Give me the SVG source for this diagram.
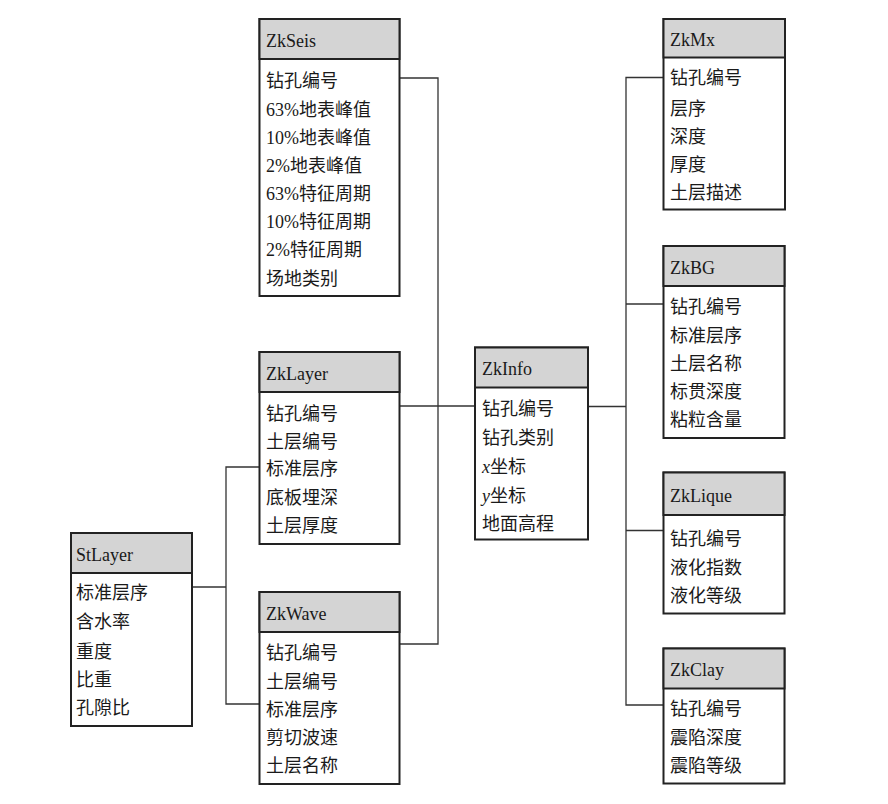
<svg xmlns="http://www.w3.org/2000/svg" width="888" height="804" viewBox="0 0 888 804">
<style>
.box{fill:#ffffff;stroke:#222;stroke-width:2}
.hdr{fill:#d4d4d4;stroke:#222;stroke-width:2}
.t{font-family:"Liberation Serif","Noto Sans CJK SC",serif;font-size:18px;fill:#1a1a1a}
.h{font-family:"Liberation Serif","Noto Sans CJK SC",serif;font-size:18px;fill:#1a1a1a}
.c{fill:none;stroke:#333;stroke-width:1.3}
</style>
<rect width="888" height="804" fill="#ffffff"/>
<g id="connectors">
<path class="c" d="M399.5,78 H438 V644 H399.5"/>
<path class="c" d="M399.5,406 H475"/>
<path class="c" d="M192,587 H226"/>
<path class="c" d="M259.5,467 H226 V704 H259.5"/>
<path class="c" d="M588,406.5 H626"/>
<path class="c" d="M663.5,77.5 H626 V705 H663.5"/>
<path class="c" d="M626,304 H663.5"/>
<path class="c" d="M626,530.5 H663.5"/>
</g>
<g id="ZkSeis">
<rect class="box" x="259.5" y="19" width="140" height="277"/>
<rect class="hdr" x="259.5" y="19" width="140" height="40"/>
<text class="h" x="266" y="47">ZkSeis</text>
<text class="t" x="266" y="87">钻孔编号</text>
<text class="t" x="266" y="115.5">63%地表峰值</text>
<text class="t" x="266" y="144">10%地表峰值</text>
<text class="t" x="266" y="172">2%地表峰值</text>
<text class="t" x="266" y="200">63%特征周期</text>
<text class="t" x="266" y="228">10%特征周期</text>
<text class="t" x="266" y="255.5">2%特征周期</text>
<text class="t" x="266" y="285">场地类别</text>
</g>
<g id="ZkLayer">
<rect class="box" x="259.5" y="352" width="140" height="192"/>
<rect class="hdr" x="259.5" y="352" width="140" height="40"/>
<text class="h" x="266" y="380">ZkLayer</text>
<text class="t" x="266" y="419.5">钻孔编号</text>
<text class="t" x="266" y="448">土层编号</text>
<text class="t" x="266" y="475">标准层序</text>
<text class="t" x="266" y="504">底板埋深</text>
<text class="t" x="266" y="532">土层厚度</text>
</g>
<g id="ZkWave">
<rect class="box" x="259.5" y="592" width="140" height="192"/>
<rect class="hdr" x="259.5" y="592" width="140" height="40"/>
<text class="h" x="266" y="620">ZkWave</text>
<text class="t" x="266" y="659">钻孔编号</text>
<text class="t" x="266" y="688">土层编号</text>
<text class="t" x="266" y="716">标准层序</text>
<text class="t" x="266" y="744">剪切波速</text>
<text class="t" x="266" y="772">土层名称</text>
</g>
<g id="StLayer">
<rect class="box" x="71" y="533" width="121" height="193"/>
<rect class="hdr" x="71" y="533" width="121" height="40"/>
<text class="h" x="76" y="561">StLayer</text>
<text class="t" x="76" y="599">标准层序</text>
<text class="t" x="76" y="627.5">含水率</text>
<text class="t" x="76" y="658">重度</text>
<text class="t" x="76" y="686">比重</text>
<text class="t" x="76" y="714">孔隙比</text>
</g>
<g id="ZkInfo">
<rect class="box" x="475" y="347.5" width="113" height="192"/>
<rect class="hdr" x="475" y="347.5" width="113" height="40"/>
<text class="h" x="482" y="375">ZkInfo</text>
<text class="t" x="482" y="415">钻孔编号</text>
<text class="t" x="482" y="443.5">钻孔类别</text>
<text class="t" x="482" y="472.5"><tspan font-style="italic">x</tspan>坐标</text>
<text class="t" x="482" y="502"><tspan font-style="italic">y</tspan>坐标</text>
<text class="t" x="482" y="530">地面高程</text>
</g>
<g id="ZkMx">
<rect class="box" x="663.5" y="19" width="121.5" height="190.5"/>
<rect class="hdr" x="663.5" y="19" width="121.5" height="38.5"/>
<text class="h" x="670" y="46">ZkMx</text>
<text class="t" x="670" y="83.5">钻孔编号</text>
<text class="t" x="670" y="114.5">层序</text>
<text class="t" x="670" y="143">深度</text>
<text class="t" x="670" y="171">厚度</text>
<text class="t" x="670" y="198.5">土层描述</text>
</g>
<g id="ZkBG">
<rect class="box" x="663.5" y="246" width="121" height="192"/>
<rect class="hdr" x="663.5" y="246" width="121" height="40"/>
<text class="h" x="670" y="274">ZkBG</text>
<text class="t" x="670" y="313">钻孔编号</text>
<text class="t" x="670" y="342">标准层序</text>
<text class="t" x="670" y="370">土层名称</text>
<text class="t" x="670" y="398">标贯深度</text>
<text class="t" x="670" y="426">粘粒含量</text>
</g>
<g id="ZkLique">
<rect class="box" x="663.5" y="472.5" width="121" height="141"/>
<rect class="hdr" x="663.5" y="472.5" width="121" height="42.5"/>
<text class="h" x="670" y="502">ZkLique</text>
<text class="t" x="670" y="544.5">钻孔编号</text>
<text class="t" x="670" y="573.5">液化指数</text>
<text class="t" x="670" y="602">液化等级</text>
</g>
<g id="ZkClay">
<rect class="box" x="663.5" y="648.5" width="121" height="135"/>
<rect class="hdr" x="663.5" y="648.5" width="121" height="40"/>
<text class="h" x="670" y="676">ZkClay</text>
<text class="t" x="670" y="715">钻孔编号</text>
<text class="t" x="670" y="743.5">震陷深度</text>
<text class="t" x="670" y="772">震陷等级</text>
</g>
</svg>
